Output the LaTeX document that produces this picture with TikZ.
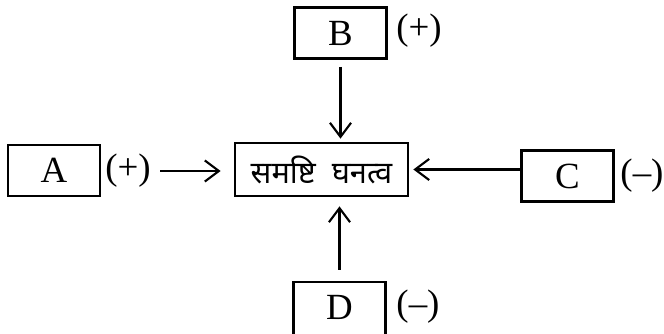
\documentclass[tikz,border=0pt]{standalone}
\usepackage{fontspec}
\setmainfont{Liberation Serif}
\newfontfamily\devfont[Script=Devanagari]{Noto Sans}
\usetikzlibrary{arrows.meta,positioning}

\begin{document}
\begin{tikzpicture}[x=0.02cm,y=-0.02cm,>={Straight Barb[length=8pt,width=12pt]},
    box/.style={draw,line width=1.6pt,minimum width=1.84cm,minimum height=1.02cm,font=\fontsize{21}{24}\selectfont},
    sign/.style={font=\fontsize{21}{24}\selectfont},
    link/.style={->,line width=1.2pt}]
  \useasboundingbox (0,0) rectangle (664,334);
  % central box
  \node[box,minimum width=3.46cm,minimum height=1.06cm] (mid) at (321.5,169.5)
    {\devfont\fontsize{17.5}{20}\selectfont समष्टि\ \ घनत्व};
  % outer boxes
  \node[box] (A) at (54,170.5) {A};
  \node[box] (B) at (340.5,33) {B};
  \node[box] (C) at (567.5,176) {C};
  \node[box,minimum height=1.22cm,text depth=0.2cm] (D) at (339.5,312.5) {D};
  \node[sign] (Asign) at (128,171) {(+)};
  \node[sign] (Bsign) at (419,31) {(+)};
  \node[sign] (Csign) at (642,176) {(--)};
  \node[sign] (Dsign) at (418,307) {(--)};
  % arrows
  \draw[link,shorten <=2pt,shorten >=0.26cm] (Asign.east) -- (mid.west |- Asign.east);
  \draw[link,shorten <=0.14cm,shorten >=0.06cm] (B.south) -- (B.south |- mid.north);
  \draw[link,shorten >=0.08cm] (C.west |- mid.east) -- (mid.east);
  \draw[link,shorten <=0.22cm,shorten >=0.18cm] (D.north) -- (D.north |- mid.south);
\end{tikzpicture}
\end{document}
